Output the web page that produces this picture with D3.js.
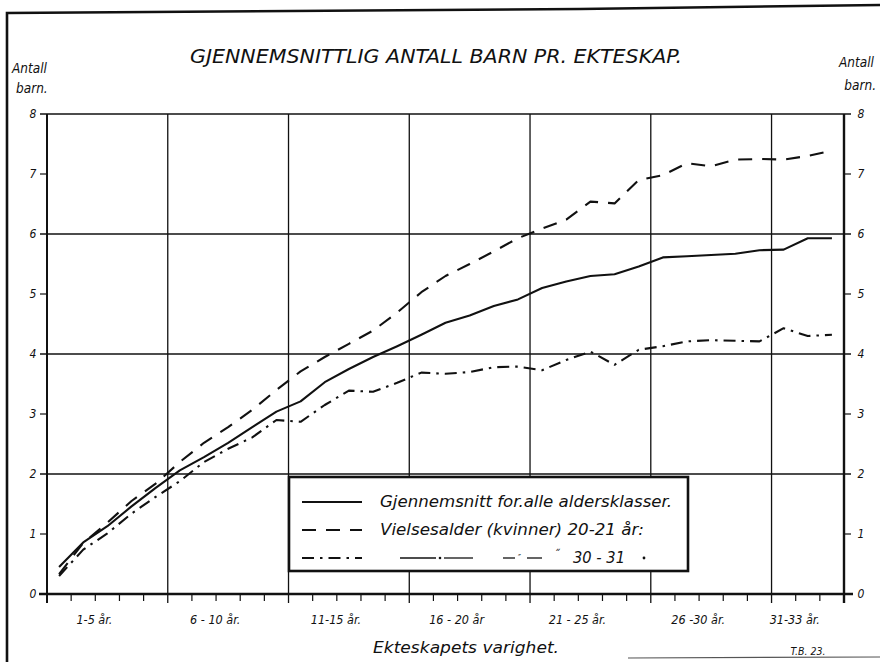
<!DOCTYPE html>
<html>
<head>
<meta charset="utf-8">
<script src="https://cdn.jsdelivr.net/npm/d3@7/dist/d3.min.js"></script>
<style>
  html, body { margin: 0; padding: 0; background: #fff; }
  svg text { font-family: "Liberation Sans Narrow", "DejaVu Sans Condensed", "DejaVu Sans", sans-serif; font-style: italic; fill: #111; }
</style>
</head>
<body>
<svg id="chart" width="880" height="662"></svg>
<script>
// ---- data ----
const years = d3.range(1, 34); // duration of marriage, 1..33 years
const avgAll = [0.45,0.86,1.13,1.46,1.77,2.06,2.28,2.52,2.78,3.04,3.21,3.53,3.75,3.95,4.13,4.32,4.52,4.64,4.80,4.91,5.10,5.21,5.30,5.33,5.46,5.61,5.63,5.65,5.67,5.73,5.74,5.93,5.93];
const age2021 = [0.33,0.85,1.19,1.55,1.84,2.20,2.52,2.78,3.07,3.40,3.71,3.95,4.17,4.39,4.69,5.03,5.30,5.50,5.71,5.93,6.09,6.24,6.54,6.51,6.90,6.98,7.18,7.13,7.24,7.25,7.24,7.30,7.39];
const age3031 = [0.30,0.74,1.01,1.34,1.62,1.88,2.20,2.42,2.61,2.90,2.87,3.15,3.39,3.37,3.52,3.69,3.67,3.70,3.78,3.79,3.73,3.90,4.04,3.82,4.07,4.13,4.21,4.23,4.22,4.21,4.43,4.30,4.32];
const groupLabels = ["1-5 år.", "6 - 10 år.", "11-15 år.", "16 - 20 år", "21 - 25 år.", "26 -30 år.", "31-33 år."];
const groupBounds = [0, 5, 10, 15, 20, 25, 30, 33];
const yTicks = [0, 1, 2, 3, 4, 5, 6, 7, 8];
const yGrid = [2, 4, 6, 8];
const legendLabels = ["Gjennemsnitt for.alle  aldersklasser.", "Vielsesalder (kvinner) 20-21 år:", "30 - 31"];

// ---- layout ----
const svg = d3.select("#chart");
const L = 47, R = 844, T = 114, B = 594;
const x = d3.scaleLinear().domain([0, 33]).range([L, R]);
const y = d3.scaleLinear().domain([0, 8]).range([B, T]);
const ink = "#111";

// outer frame (scanned sheet border)
svg.append("path").attr("d", "M7,662 L7,13 L580,9 L880,5")
  .attr("fill", "none").attr("stroke", ink).attr("stroke-width", 2.6);
svg.append("line").attr("x1", 628).attr("x2", 880).attr("y1", 658).attr("y2", 657)
  .attr("stroke", "#555").attr("stroke-width", 1.2);

// title
svg.append("text").attr("x", 436).attr("y", 63).attr("text-anchor", "middle")
  .attr("font-size", 20).attr("textLength", 492).attr("lengthAdjust", "spacingAndGlyphs")
  .text("GJENNEMSNITTLIG  ANTALL BARN PR. EKTESKAP.");

// axis titles (Antall barn.)
svg.append("text").attr("x", 12).attr("y", 73).attr("font-size", 13.5).text("Antall");
svg.append("text").attr("x", 16).attr("y", 93).attr("font-size", 13.5).text("barn.");
svg.append("text").attr("x", 874).attr("y", 67).attr("text-anchor", "end").attr("font-size", 13.5).text("Antall");
svg.append("text").attr("x", 876).attr("y", 90).attr("text-anchor", "end").attr("font-size", 13.5).text("barn.");

// horizontal grid lines
svg.append("g").selectAll("line").data(yGrid).join("line")
  .attr("x1", L - 7).attr("x2", R + 7)
  .attr("y1", d => y(d)).attr("y2", d => y(d))
  .attr("stroke", ink).attr("stroke-width", 1.3);

// minor y ticks on both axes
svg.append("g").selectAll("line").data(yTicks.filter(d => d % 2 === 1)).join("line")
  .attr("x1", L - 7).attr("x2", L).attr("y1", d => y(d)).attr("y2", d => y(d))
  .attr("stroke", ink).attr("stroke-width", 1.2);
svg.append("g").selectAll("line").data(yTicks.filter(d => d % 2 === 1)).join("line")
  .attr("x1", R).attr("x2", R + 7).attr("y1", d => y(d)).attr("y2", d => y(d))
  .attr("stroke", ink).attr("stroke-width", 1.2);

// vertical grid lines at group bounds
svg.append("g").selectAll("line").data(groupBounds.slice(1, -1)).join("line")
  .attr("x1", d => x(d)).attr("x2", d => x(d))
  .attr("y1", T).attr("y2", B + 9)
  .attr("stroke", ink).attr("stroke-width", 1.3);

// y axes
svg.append("line").attr("x1", L).attr("x2", L).attr("y1", T).attr("y2", B + 9)
  .attr("stroke", ink).attr("stroke-width", 2);
svg.append("line").attr("x1", R).attr("x2", R).attr("y1", T).attr("y2", B + 9)
  .attr("stroke", ink).attr("stroke-width", 2.4);

// x axis (bold zero line)
svg.append("line").attr("x1", L - 8).attr("x2", R + 9).attr("y1", y(0)).attr("y2", y(0))
  .attr("stroke", ink).attr("stroke-width", 2.6);

// yearly ticks under the x axis
svg.append("g").selectAll("line").data(d3.range(1, 33).filter(d => !groupBounds.includes(d))).join("line")
  .attr("x1", d => x(d)).attr("x2", d => x(d))
  .attr("y1", y(0)).attr("y2", y(0) + 7)
  .attr("stroke", ink).attr("stroke-width", 1.2);

// y tick labels
svg.append("g").selectAll("text").data(yTicks).join("text")
  .attr("x", 33).attr("y", d => y(d)).attr("dy", "0.35em").attr("text-anchor", "middle")
  .attr("font-size", 12).text(d => d);
svg.append("g").selectAll("text").data(yTicks).join("text")
  .attr("x", 861).attr("y", d => y(d)).attr("dy", "0.35em").attr("text-anchor", "middle")
  .attr("font-size", 12).text(d => d);

// x group labels
svg.append("g").selectAll("text").data(groupLabels).join("text")
  .attr("x", (d, i) => (x(groupBounds[i]) + x(groupBounds[i + 1])) / 2 - 13)
  .attr("y", 624).attr("text-anchor", "middle").attr("font-size", 12.5)
  .text(d => d);

svg.append("text").attr("x", 466).attr("y", 653).attr("text-anchor", "middle")
  .attr("font-size", 16.5).attr("textLength", 186).attr("lengthAdjust", "spacingAndGlyphs")
  .text("Ekteskapets  varighet.");
svg.append("text").attr("x", 808).attr("y", 655).attr("text-anchor", "middle")
  .attr("font-size", 10.5).attr("font-style", "normal").text("T.B. 23.");

// data lines
const styles = [
  { values: avgAll, dash: null },
  { values: age2021, dash: "14,10" },
  { values: age3031, dash: "12,6,2.5,6" }
];
const line = d3.line().x(d => x(d[0] - 0.5)).y(d => y(d[1]));
styles.forEach(s => {
  svg.append("path")
    .datum(years.map((yr, i) => [yr, s.values[i]]))
    .attr("d", line)
    .attr("fill", "none").attr("stroke", ink).attr("stroke-width", 2.1)
    .attr("stroke-linejoin", "round")
    .attr("stroke-dasharray", s.dash);
});

// legend
const lg = svg.append("g");
lg.append("rect").attr("x", 289).attr("y", 477).attr("width", 399).attr("height", 94)
  .attr("fill", "#fff").attr("stroke", ink).attr("stroke-width", 2.6);
const rows = [502, 530, 558];
styles.forEach((s, i) => {
  lg.append("line").attr("x1", 302).attr("x2", 362).attr("y1", rows[i]).attr("y2", rows[i])
    .attr("stroke", ink).attr("stroke-width", 2.1).attr("stroke-dasharray", s.dash);
});
lg.append("text").attr("x", 380).attr("y", rows[0] + 5).attr("font-size", 15)
  .attr("textLength", 292).attr("lengthAdjust", "spacingAndGlyphs").text(legendLabels[0]);
lg.append("text").attr("x", 380).attr("y", rows[1] + 5).attr("font-size", 15)
  .attr("textLength", 264).attr("lengthAdjust", "spacingAndGlyphs").text(legendLabels[1]);
// ditto marks on the third row
const ditto = [[400, 436], [444, 473], [503, 515], [527, 542]];
lg.selectAll("line.ditto").data(ditto).join("line").attr("class", "ditto")
  .attr("x1", d => d[0]).attr("x2", d => d[1]).attr("y1", rows[2]).attr("y2", rows[2])
  .attr("stroke", ink).attr("stroke-width", 1.3);
lg.append("circle").attr("cx", 440).attr("cy", rows[2]).attr("r", 1.3).attr("fill", ink);
lg.append("text").attr("x", 518).attr("y", rows[2] + 3).attr("font-size", 9).text("″");
lg.append("text").attr("x", 554).attr("y", rows[2] + 1).attr("font-size", 12).text("˝");
lg.append("text").attr("x", 573).attr("y", rows[2] + 5).attr("font-size", 15)
  .attr("textLength", 52).attr("lengthAdjust", "spacingAndGlyphs").text(legendLabels[2]);
lg.append("circle").attr("cx", 644).attr("cy", rows[2]).attr("r", 1.4).attr("fill", ink);
</script>
</body>
</html>
